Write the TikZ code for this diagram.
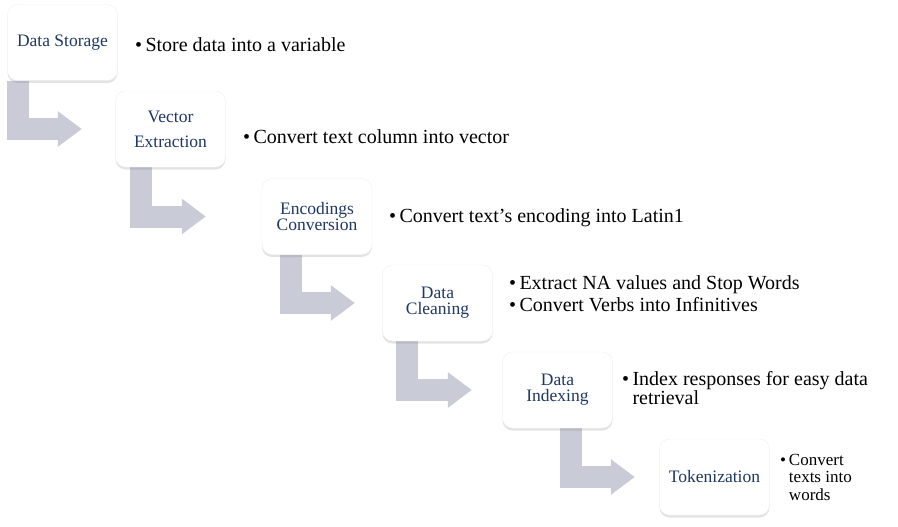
\documentclass[tikz,border=0pt]{standalone}
\usepackage{fontspec}
\setmainfont{Liberation Serif}
\usetikzlibrary{arrows.meta,shadows,backgrounds}

\definecolor{stepblue}{RGB}{31,56,100}
\definecolor{flowgray}{RGB}{201,203,214}

\tikzset{
  stage/.style={draw=gray!12, fill=white, rounded corners=10pt, minimum width=110pt, minimum height=76pt,
    align=center, text=stepblue, font=\fontsize{17.5}{16}\selectfont,
    drop shadow={opacity=0.22, shadow xshift=0pt, shadow yshift=-2.5pt}},
  note/.style={anchor=west, align=left, inner sep=0pt, font=\fontsize{20}{22}\selectfont},
  flow/.style={draw=flowgray, line width=22pt, -{Triangle[length=24pt,width=34pt]}}
}

\begin{document}
\begin{tikzpicture}[x=1pt,y=-1pt]
	\useasboundingbox (0,0) rectangle (898,527);

	\node[stage] (ds) at (62.5,42.5) {Data Storage};
	\node[stage, font=\fontsize{17.5}{25}\selectfont] (ve) at (170.5,129) {Vector\\Extraction};
	\node[stage] (ec) at (317,216.5) {Encodings\\Conversion};
	\node[stage] (dc) at (437.5,303) {Data\\Cleaning};
	\node[stage] (di) at (557.5,390) {Data\\Indexing};
	\node[stage] (tk) at (714.5,477) {Tokenization};

	% bent arrows go behind the boxes
	\begin{pgfonlayer}{background}
		\draw[flow] ([xshift=10.5pt]ds.south west) |- ([xshift=-33.5pt]ve.west);
		\draw[flow] ([xshift=25.5pt]ve.south west) |- ([xshift=-56pt]ec.west);
		\draw[flow] ([xshift=29pt]ec.south west) |- ([xshift=-27.5pt]dc.west);
		\draw[flow] ([xshift=25pt]dc.south west) |- ([xshift=-30.5pt]di.west);
		\draw[flow] ([xshift=68.5pt]di.south west) |- ([xshift=-24.5pt]tk.west);
	\end{pgfonlayer}

	\node[note] (n1) at (135,45) {•\,Store data into a variable};
	\node[note] (n2) at (243,137) {•\,Convert text column into vector};
	\node[note] (n3) at (389,218) {•\,Convert text's encoding into Latin1};
	\node[note] (n4) at (509,294) {•\,Extract NA values and Stop Words\\•\,Convert Verbs into Infinitives};
	\node[note, font=\fontsize{20}{18}\selectfont] (n5) at (622,388) {•\,Index responses for easy data\\\hphantom{•\,}retrieval};
	\node[note, font=\fontsize{17}{17.5}\selectfont] (n6) at (780,477) {•\,Convert\\\hphantom{•\,}texts into\\\hphantom{•\,}words};
\end{tikzpicture}
\end{document}
